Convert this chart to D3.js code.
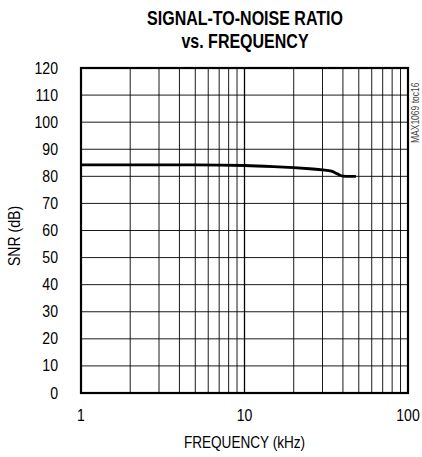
<!DOCTYPE html>
<html lang="en">
<head>
<meta charset="UTF-8">
<title>SNR vs Frequency</title>
<style>
  body { margin: 0; background: #fff; }
  text { font-family: "Liberation Sans", Arial, sans-serif; }
</style>
<script src="https://d3js.org/d3.v7.min.js"></script>
</head>
<body>
<div id="chart"></div>
<script>
  // data
  var freq = [1, 2, 5, 10, 15, 20, 25, 30, 34, 37, 40, 44, 48];
  var snr  = [84.2, 84.2, 84.2, 84.0, 83.6, 83.2, 82.8, 82.4, 81.9, 80.9, 80.1, 80.0, 80.0];
  var yTicks = [0, 10, 20, 30, 40, 50, 60, 70, 80, 90, 100, 110, 120];
  var xTicks = [1, 10, 100];

  var W = 422, H = 457;
  var m = { left: 81, right: 14, top: 68, bottom: 64 };

  var svg = d3.select("#chart").append("svg")
      .attr("width", W).attr("height", H);

  var x = d3.scaleLog().domain([1, 100]).range([m.left, W - m.right]);
  var y = d3.scaleLinear().domain([0, 120]).range([H - m.bottom, m.top]);

  // narrow text: squeeze horizontally around its anchor point
  function label(px, py, str, size, sx, anchor, weight) {
    return svg.append("text")
        .attr("transform", "translate(" + px + "," + py + ") scale(" + sx + ",1)")
        .attr("text-anchor", anchor || "middle")
        .attr("font-size", size)
        .attr("font-weight", weight || "normal")
        .text(str);
  }

  // grid
  var minor = [];
  for (var d = 1; d < 100; d *= 10)
    for (var k = 2; k <= 9; k++) minor.push(d * k);
  minor.push(10);

  svg.append("g").selectAll("line").data(minor).enter().append("line")
      .attr("x1", function(d) { return x(d); }).attr("x2", function(d) { return x(d); })
      .attr("y1", y(0)).attr("y2", y(120))
      .attr("stroke", "#000").attr("stroke-width", function(d) { return d == 10 ? 1.3 : 0.9; });

  svg.append("g").selectAll("line").data(yTicks).enter().append("line")
      .attr("x1", x(1)).attr("x2", x(100))
      .attr("y1", function(d) { return y(d); }).attr("y2", function(d) { return y(d); })
      .attr("stroke", "#000").attr("stroke-width", 0.9);

  svg.append("rect")
      .attr("x", x(1)).attr("y", y(120))
      .attr("width", x(100) - x(1)).attr("height", y(0) - y(120))
      .attr("fill", "none").attr("stroke", "#000").attr("stroke-width", 2.2);

  // axis labels
  yTicks.forEach(function(t) { label(58, y(t) + 5.5, t, 16, 0.88, "end"); });
  xTicks.forEach(function(t) { label(x(t), 421, t, 16, 0.88); });

  label(x(10), 448, "FREQUENCY (kHz)", 16, 0.85);

  svg.append("text")
      .attr("transform", "translate(20,236) rotate(-90) scale(0.88,1)")
      .attr("text-anchor", "middle").attr("font-size", 16)
      .text("SNR (dB)");

  // title
  label(245, 25, "SIGNAL-TO-NOISE RATIO", 20, 0.8, "middle", "bold");
  label(245, 48, "vs. FREQUENCY", 20, 0.8, "middle", "bold");

  svg.append("text")
      .attr("transform", "translate(419,143) rotate(-90) scale(0.85,1)")
      .attr("font-size", 10).attr("fill", "#444")
      .text("MAX1069 toc16");

  // curve
  var pts = freq.map(function(f, i) { return [f, snr[i]]; });
  var line = d3.line()
      .x(function(d) { return x(d[0]); })
      .y(function(d) { return y(d[1]); })
      .curve(d3.curveMonotoneX);

  svg.append("path").datum(pts)
      .attr("d", line)
      .attr("fill", "none").attr("stroke", "#000").attr("stroke-width", 2.8);
</script>
</body>
</html>
